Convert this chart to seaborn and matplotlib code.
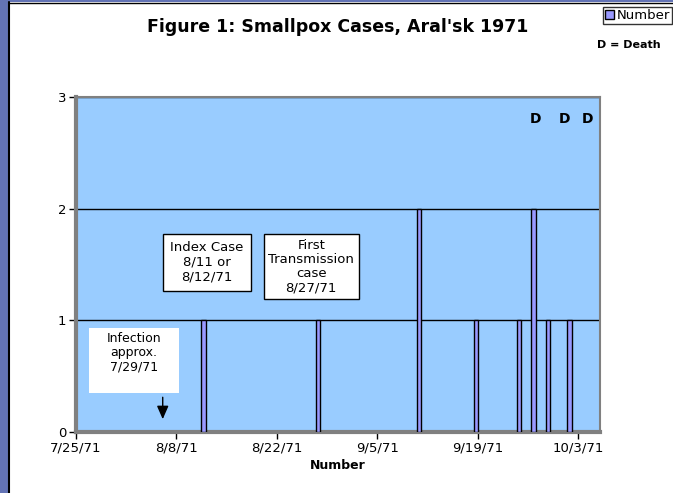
import numpy as np
import pandas as pd
import seaborn as sns
import matplotlib.pyplot as plt
import matplotlib.dates as mdates
from matplotlib.patches import Rectangle, Patch

# case onset dates and number of cases on each day
onset_dates = ['1971-08-11', '1971-08-27', '1971-09-10', '1971-09-18',
               '1971-09-24', '1971-09-26', '1971-09-28', '1971-10-01']
case_counts = [1, 1, 2, 1, 1, 2, 1, 1]

tick_dates = ['1971-07-25', '1971-08-08', '1971-08-22',
              '1971-09-05', '1971-09-19', '1971-10-03']
tick_labels = ['7/25/71', '8/8/71', '8/22/71', '9/5/71', '9/19/71', '10/3/71']
y_ticks = [0, 1, 2, 3]

sns.set_style('white')
plt.rcParams['font.family'] = ['DejaVu Sans']
plt.rcParams['text.color'] = 'black'
plt.rcParams['axes.labelcolor'] = 'black'
plt.rcParams['xtick.color'] = 'black'
plt.rcParams['ytick.color'] = 'black'

fig = plt.figure(figsize=(6.73, 4.93), dpi=100, facecolor='white')

# blue frame strip on the left / top like the original slide
fig.patches.append(Rectangle((0, 0), 8 / 673, 1, transform=fig.transFigure,
                             facecolor='#6373B5', edgecolor='none', zorder=0))
fig.patches.append(Rectangle((0, 1 - 2 / 493), 1, 2 / 493, transform=fig.transFigure,
                             facecolor='#6373B5', edgecolor='none', zorder=0))
fig.lines.append(plt.Line2D([8.5 / 673, 8.5 / 673], [0, 1 - 2 / 493], transform=fig.transFigure,
                            color='black', lw=1.5))
fig.lines.append(plt.Line2D([8.5 / 673, 1], [1 - 2.5 / 493, 1 - 2.5 / 493], transform=fig.transFigure,
                            color='black', lw=1))

ax = fig.add_axes([76 / 673, 1 - 432 / 493, 524 / 673, 335 / 493])
ax.set_facecolor('#99CCFF')

x_days = mdates.date2num(pd.to_datetime(onset_dates)) + 0.75
df = pd.DataFrame({'day': x_days, 'Number': case_counts})
sns.barplot(data=df, x='day', y='Number', native_scale=True, width=0.3,
            color='#9999FF', saturation=1, edgecolor='black', linewidth=1,
            ax=ax, zorder=3)

ax.set_xlim(mdates.date2num(pd.Timestamp('1971-07-25')),
            mdates.date2num(pd.Timestamp('1971-10-06')))
ax.set_ylim(0, 3)
ax.set_xticks(mdates.date2num(pd.to_datetime(tick_dates)))
ax.set_xticklabels(tick_labels, fontsize=9.5)
ax.set_yticks(y_ticks)
ax.set_yticklabels([str(v) for v in y_ticks], fontsize=9.5)
ax.tick_params(axis='both', direction='out', length=5, width=1, color='black',
               bottom=True, left=True, pad=2)
ax.set_xlabel('Number', fontsize=9, fontweight='bold', labelpad=3)
ax.set_ylabel('')

ax.yaxis.grid(True, color='black', lw=1, zorder=1)
ax.set_axisbelow(True)
for side in ['top', 'right']:
    ax.spines[side].set_color('#808080')
    ax.spines[side].set_linewidth(1.5)
for side in ['left', 'bottom']:
    ax.spines[side].set_color('#808080')
    ax.spines[side].set_linewidth(3)

# annotation boxes (axes fraction)
boxes = [
    (0.0248, 0.1164, 0.1718, 0.194, 'none'),
    (0.166, 0.421, 0.168, 0.170, 'black'),
    (0.359, 0.397, 0.181, 0.194, 'black'),
]
for bx, by, bw, bh, ec in boxes:
    ax.add_patch(Rectangle((bx, by), bw, bh, transform=ax.transAxes,
                           facecolor='white', edgecolor=ec, lw=1, zorder=5))

ax.text(0.1107, 0.236, 'Infection\napprox.\n7/29/71', transform=ax.transAxes,
        ha='center', va='center', fontsize=9, linespacing=1.15, zorder=6)
ax.text(0.25, 0.507, 'Index Case\n8/11 or\n8/12/71', transform=ax.transAxes,
        ha='center', va='center', fontsize=9.5, linespacing=1.15, zorder=6)
ax.text(0.449, 0.494, 'First\nTransmission\ncase\n8/27/71', transform=ax.transAxes,
        ha='center', va='center', fontsize=9.5, linespacing=1.1, zorder=6)

ax.annotate('', xy=(0.1655, 0.03), xytext=(0.1655, 0.112), xycoords='axes fraction',
            arrowprops=dict(arrowstyle='-|>,head_length=0.8,head_width=0.35',
                            color='black', lw=1), zorder=6)

for dx in [0.877, 0.932, 0.976]:
    ax.text(dx, 0.934, 'D', transform=ax.transAxes, ha='center', va='center',
            fontsize=10, fontweight='bold', zorder=6)

fig.text(0.502, 0.945, "Figure 1: Smallpox Cases, Aral'sk 1971", ha='center', va='center',
         fontsize=12.5, fontweight='bold')
fig.text(597 / 673, 1 - 45 / 493, 'D = Death', ha='left', va='center',
         fontsize=8, fontweight='bold')

leg = fig.legend(handles=[Patch(facecolor='#9999FF', edgecolor='black', lw=1, label='Number')],
                 loc='upper right', bbox_to_anchor=(672 / 673, 1 - 7 / 493),
                 fontsize=9.5, frameon=True, fancybox=False, borderpad=0.15,
                 handlelength=0.7, handleheight=0.7, handletextpad=0.2,
                 borderaxespad=0)
leg.get_frame().set_edgecolor('black')
leg.get_frame().set_linewidth(1)

fig.savefig('out.png', dpi=100, facecolor='white')
